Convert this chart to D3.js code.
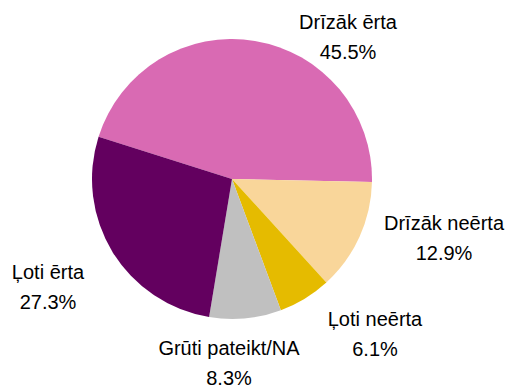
<!DOCTYPE html>
<html>
<head>
<meta charset="utf-8">
<script src="https://cdn.jsdelivr.net/npm/d3@7"></script>
<style>
  html, body { margin: 0; padding: 0; background: #fff; }
  svg { display: block; }
  text { font-family: "Liberation Sans", Arial, sans-serif; font-size: 20px; fill: #000; }
</style>
</head>
<body>
<svg id="chart" width="512" height="387"></svg>
<script>
// Survey answers (share of respondents, %)
const categories = ["Drīzāk ērta", "Drīzāk neērta", "Ļoti neērta", "Grūti pateikt/NA", "Ļoti ērta"];
const values = [45.5, 12.9, 6.1, 8.3, 27.3];
const colors = ["#D96AB3", "#F9D69A", "#E5BB00", "#C0C0C0", "#63005F"];

// Label anchors: centre x and first-line baseline for each slice's label
const labelAnchors = [[348, 29], [444, 230], [375, 326], [229, 355], [48, 279]];

const width = 512, height = 387;
const cx = 232, cy = 179, radius = 140;
const startDeg = -72.4;

const svg = d3.select("#chart");
const g = svg.append("g").attr("transform", `translate(${cx},${cy})`);

const pie = d3.pie()
  .sort(null)
  .value(d => d.value)
  .startAngle(startDeg * Math.PI / 180)
  .endAngle(startDeg * Math.PI / 180 + 2 * Math.PI);

const arc = d3.arc().innerRadius(0).outerRadius(radius);

const data = categories.map((c, i) => ({ name: c, value: values[i], color: colors[i] }));
const arcs = pie(data);

g.selectAll("path.slice")
  .data(arcs)
  .join("path")
  .attr("class", "slice")
  .attr("d", arc)
  .attr("fill", d => d.data.color);

const labels = svg.selectAll("text.label")
  .data(arcs)
  .join("text")
  .attr("class", "label")
  .attr("text-anchor", "middle");

labels.append("tspan")
  .attr("x", (d, i) => labelAnchors[i][0])
  .attr("y", (d, i) => labelAnchors[i][1])
  .text(d => d.data.name);

labels.append("tspan")
  .attr("x", (d, i) => labelAnchors[i][0])
  .attr("y", (d, i) => labelAnchors[i][1] + 29.5)
  .text(d => d3.format(".1f")(d.data.value) + "%");
</script>
</body>
</html>
